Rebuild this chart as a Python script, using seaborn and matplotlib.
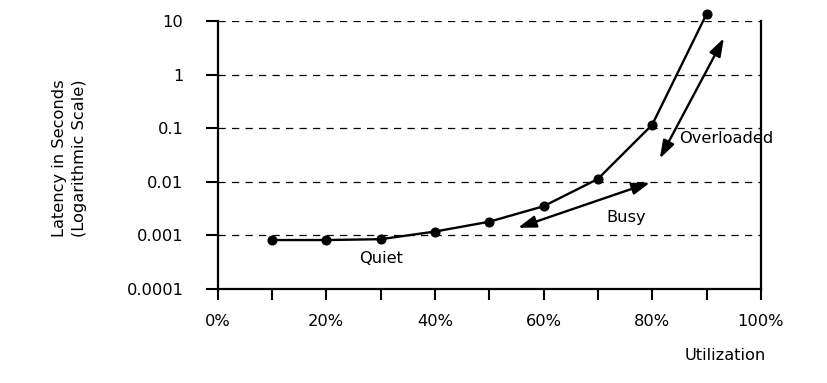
import matplotlib
matplotlib.use("Agg")
import matplotlib.pyplot as plt
import seaborn as sns
import pandas as pd

# Data
utilization = [10, 20, 30, 40, 50, 60, 70, 80, 90]
latency = [0.00082, 0.00082, 0.00085, 0.00118, 0.0018, 0.0035, 0.0113, 0.116, 13.5]
x_tick_values = [0, 10, 20, 30, 40, 50, 60, 70, 80, 90, 100]
x_tick_labels = ["0%", "", "20%", "", "40%", "", "60%", "", "80%", "", "100%"]
y_tick_values = [0.0001, 0.001, 0.01, 0.1, 1, 10]
y_tick_labels = ["0.0001", "0.001", "0.01", "0.1", "1", "10"]

df = pd.DataFrame({"Utilization": utilization, "Latency": latency})

sns.set_style("ticks")
plt.rcParams["font.family"] = ["DejaVu Sans"]
plt.rcParams["text.color"] = "black"
plt.rcParams["axes.labelcolor"] = "black"
FS = 11.7
plt.rcParams["font.size"] = FS

fig = plt.figure(figsize=(8.27, 3.83), dpi=100)
ax = fig.add_axes([0.263, 0.2454, 0.657, 0.6996])

ax.set_yscale("log")
ax.set_ylim(0.0001, 10)
ax.set_xlim(0, 100)

# dashed horizontal gridlines
for v in y_tick_values[1:]:
    ax.axhline(v, color="black", lw=0.9, linestyle=(0, (5.8, 5.0)), zorder=1)

sns.lineplot(data=df, x="Utilization", y="Latency", ax=ax, color="black",
             lw=1.7, marker="o", markersize=6.5, markeredgecolor="black",
             markerfacecolor="black", zorder=3, clip_on=False)

ax.set_xticks(x_tick_values)
ax.set_xticklabels(x_tick_labels)
ax.set_yticks(y_tick_values)
ax.set_yticklabels(y_tick_labels)
ax.yaxis.set_minor_locator(matplotlib.ticker.NullLocator())
ax.xaxis.set_minor_locator(matplotlib.ticker.NullLocator())

ax.tick_params(axis="x", direction="out", length=8, width=1.5, pad=10,
               labelsize=FS, color="black", labelcolor="black")
ax.tick_params(axis="y", direction="out", length=8.5, width=1.5, pad=16,
               labelsize=FS, color="black", labelcolor="black")

for side in ["left", "bottom", "right"]:
    ax.spines[side].set_visible(True)
    ax.spines[side].set_color("black")
    ax.spines[side].set_linewidth(1.6)
ax.spines["top"].set_visible(False)

ax.set_xlabel("Utilization", fontsize=FS, color="black")
ax.xaxis.set_label_coords(0.934, -0.222)
ax.set_ylabel("Latency in Seconds\n(Logarithmic Scale)", fontsize=FS,
              linespacing=1.45, color="black")
ax.yaxis.set_label_coords(-0.240, 0.489)

# Region labels
ax.text(30.1, 3.65e-4, "Quiet", ha="center", va="center", fontsize=FS, color="black")
ax.text(75.3, 2.14e-3, "Busy", ha="center", va="center", fontsize=FS, color="black")
ax.text(93.7, 0.0644, "Overloaded", ha="center", va="center", fontsize=FS,
        color="black", clip_on=False, zorder=5)

arrow_kw = dict(arrowstyle="<|-|>,head_length=0.6,head_width=0.2",
                mutation_scale=18, lw=1.7, color="black",
                shrinkA=0, shrinkB=0)
ax.annotate("", xy=(79.6, 0.00966), xytext=(55.3, 0.00139),
            arrowprops=arrow_kw, annotation_clip=False)
ax.annotate("", xy=(93.2, 4.8), xytext=(81.4, 0.0272),
            arrowprops=arrow_kw, annotation_clip=False)

fig.savefig("out.png", dpi=100)
